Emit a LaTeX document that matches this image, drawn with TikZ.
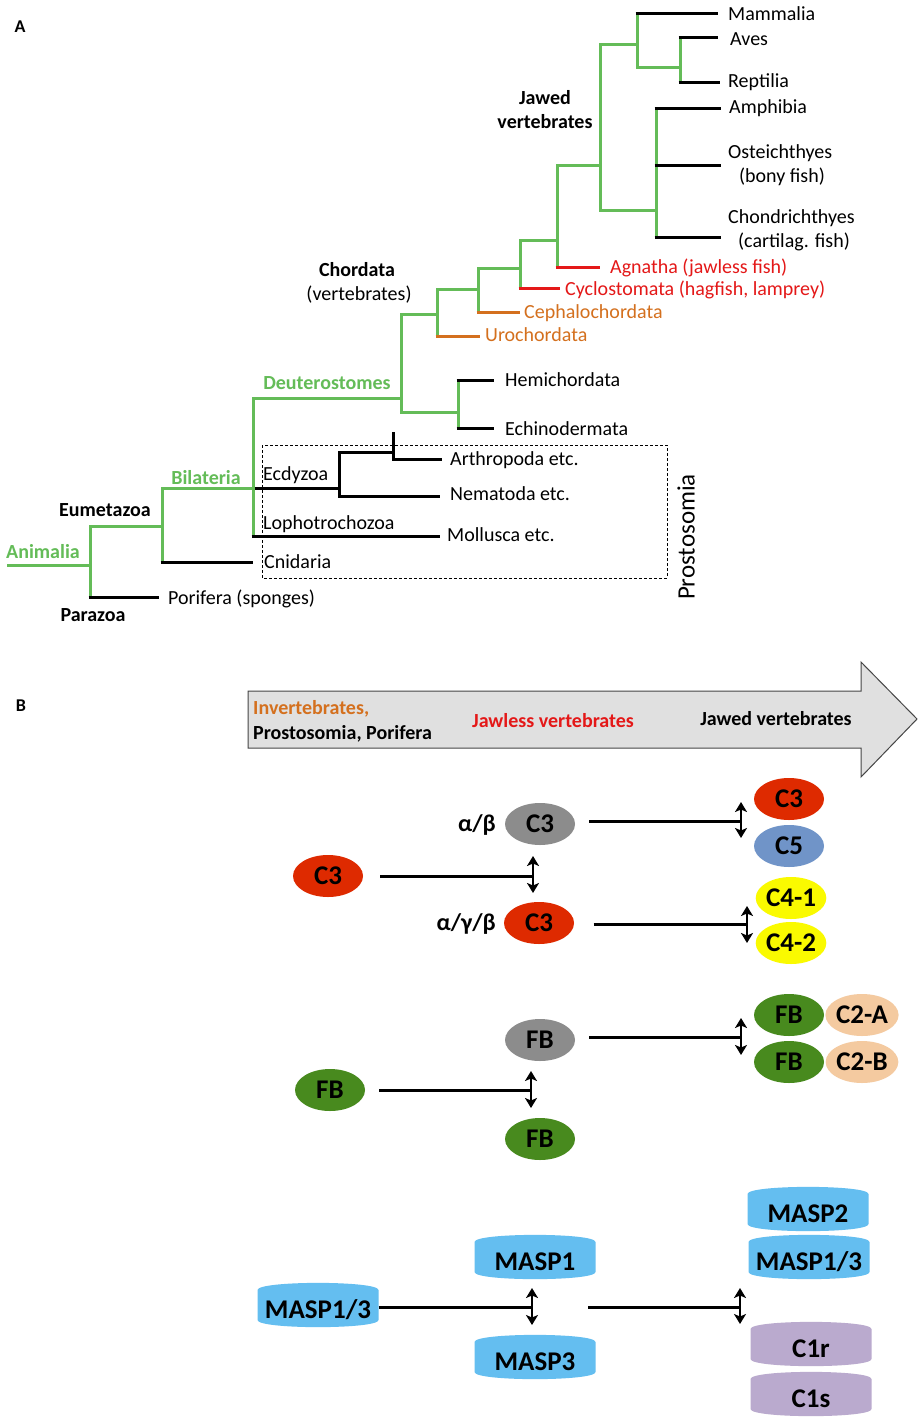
\documentclass[tikz,border=0pt]{standalone}
\usepackage{fontspec}
\setmainfont{Carlito}
\usetikzlibrary{arrows.meta,shapes.geometric}
\definecolor{tgreen}{RGB}{100,188,88}
\definecolor{tred}{RGB}{228,24,24}
\definecolor{torange}{RGB}{212,112,30}
\definecolor{cred}{RGB}{222,42,0}
\definecolor{cgray}{RGB}{140,140,140}
\definecolor{cblue}{RGB}{112,148,200}
\definecolor{cyellow}{RGB}{250,250,0}
\definecolor{cgreen}{RGB}{72,138,30}
\definecolor{cpeach}{RGB}{244,202,160}
\definecolor{ccyan}{RGB}{100,190,240}
\definecolor{cpurple}{RGB}{186,170,206}
\definecolor{arrowfill}{RGB}{224,224,224}
\definecolor{arrowedge}{RGB}{70,70,70}
\newcommand\maspcan[5]{%
  \fill[#4] (#2-60.5,#3-15) .. controls (#2-60.5,#3-24.5) and (#2+60.5,#3-24.5) .. (#2+60.5,#3-15)
    -- (#2+60.5,#3+15) .. controls (#2+60.5,#3+24.5) and (#2-60.5,#3+24.5) .. (#2-60.5,#3+15) -- cycle;
  \coordinate (#1-e) at (#2+60.5,#3);
  \node[cantxt] (#1) at (#2,#3+5) {#5};}
\begin{document}
\begin{tikzpicture}[x=1pt,y=-1pt,line join=miter,
  tl/.style={font=\fontsize{20}{24}\selectfont, inner sep=0pt, anchor=west, text height=13pt, text depth=0pt},
  tlc/.style={font=\fontsize{20}{24}\selectfont, inner sep=0pt, text height=13pt, text depth=0pt},
  tlb/.style={font=\fontsize{20}{24}\selectfont\bfseries, inner sep=0pt, text height=13pt, text depth=0pt},
  tlbw/.style={tlb, anchor=west},
  gl/.style={draw=tgreen, line width=3pt},
  bl/.style={draw=black, line width=3pt},
  rl/.style={draw=tred, line width=3pt},
  ol/.style={draw=torange, line width=3pt},
  ell/.style={ellipse, inner sep=0pt, minimum width=70pt, minimum height=42pt, font=\fontsize{27}{30}\selectfont\bfseries, text height=17pt, text depth=0pt},
  cantxt/.style={inner sep=0pt, font=\fontsize{27}{30}\selectfont\bfseries, text height=17pt, text depth=0pt},
  greek/.style={font=\fontsize{24}{28}\selectfont\bfseries, inner sep=0pt, text height=14pt, text depth=0pt, anchor=east},
  hl/.style={line width=3pt},
  bar/.style={line width=2.2pt, {Stealth[length=10pt,width=12pt,inset=2.5pt]}-{Stealth[length=10pt,width=12pt,inset=2.5pt]}},
  panel/.style={font=\fontsize{18}{20}\selectfont\bfseries, inner sep=0pt}]
\fill[white] (0,0) rectangle (920,1421);
\useasboundingbox (0,0) rectangle (920,1421);

% ---------- Panel A ----------
\node[panel] (lA) at (20,27) {A};

% green tree
\draw[gl] (7,565) -- (90,565);
\draw[gl] (162,526) -- (90,526) -- (90,597);
\draw[gl] (253,488) -- (162,488) -- (162,562);
\draw[gl] (401,398) -- (253,398) -- (253,536);
\draw[gl] (437,314) -- (401,314) -- (401,412) -- (458,412);
\draw[gl] (458,380) -- (458,428);
\draw[gl] (478,289) -- (437,289) -- (437,336);
\draw[gl] (520,268) -- (478,268) -- (478,312);
\draw[gl] (557,240) -- (520,240) -- (520,288);
\draw[gl] (600,165) -- (557,165) -- (557,267);
\draw[gl] (637,45) -- (600,45) -- (600,210) -- (656,210);
\draw[gl] (637,14) -- (637,68) -- (680,68);
\draw[gl] (680,38) -- (680,82);
\draw[gl] (656,108) -- (656,237);

% leaves
\draw[bl] (88.5,597) -- (159,597);
\draw[bl] (160.5,562) -- (253,562);
\draw[bl] (251.5,536) -- (440,536);
\draw[bl] (254.5,488) -- (339,488);
\draw[bl] (393,452) -- (339,452) -- (339,496) -- (440,496);
\draw[bl] (393,432) -- (393,459) -- (442,459);
\draw[bl] (456.5,380) -- (494,380);
\draw[bl] (456.5,428) -- (494,428);
\draw[ol] (435.5,336) -- (480,336);
\draw[ol] (476.5,312) -- (520,312);
\draw[rl] (518.5,288) -- (560,288);
\draw[rl] (555.5,267) -- (600,267);
\draw[bl] (635.5,14) -- (718,14);
\draw[bl] (678.5,38) -- (718,38);
\draw[bl] (678.5,82) -- (720,82);
\draw[bl] (654.5,108) -- (721,108);
\draw[bl] (654.5,165) -- (721,165);
\draw[bl] (654.5,237) -- (721,237);

% labels
\node[tl] (mam) at (728,14) {Mammalia};
\node[tl] (ave) at (730,39) {Aves};
\node[tl] (rep) at (728,81) {Reptilia};
\node[tl] (amp) at (729,107) {Amphibia};
\node[tl] (ost) at (728,152) {Osteichthyes};
\node[tlc] (ost2) at (782,176) {(bony fish)};
\node[tl] (cho) at (728,217) {Chondrichthyes};
\node[tlc] (cho2) at (794,241) {(cartilag. fish)};
\node[tlb] (jv1) at (545,98) {Jawed};
\node[tlb] (jv2) at (545,122) {vertebrates};
\node[tl, text=tred] (agn) at (610,267) {Agnatha (jawless fish)};
\node[tl, text=tred] (cyc) at (565,289) {Cyclostomata (hagfish, lamprey)};
\node[tl, text=torange] (cep) at (524,312) {Cephalochordata};
\node[tl, text=torange] (uro) at (485,335) {Urochordata};
\node[tlb] (chd1) at (357,270) {Chordata};
\node[tlc] (chd2) at (359,294) {(vertebrates)};
\node[tlb, text=tgreen] (deu) at (327,383) {Deuterostomes};
\node[tl] (hem) at (505,380) {Hemichordata};
\node[tl] (ech) at (505,429) {Echinodermata};
\node[tl] (art) at (450,459) {Arthropoda etc.};
\node[tl] (nem) at (450,494) {Nematoda etc.};
\node[tl] (mol) at (447,535) {Mollusca etc.};
\node[tl] (ecd) at (263,474) {Ecdyzoa};
\node[tl] (lop) at (263,523) {Lophotrochozoa};
\node[tl] (cni) at (264,562) {Cnidaria};
\node[tlb, text=tgreen] (bil) at (206,478) {Bilateria};
\node[tlb] (eum) at (105,510) {Eumetazoa};
\node[tlb, text=tgreen] (ani) at (43,552) {Animalia};
\node[tlb] (par) at (93,615) {Parazoa};
\node[tl] (por) at (168,598) {Porifera (sponges)};
\draw[line width=0.8pt, dash pattern=on 3pt off 2pt] (262,445) rectangle (667,578);
\node[font=\fontsize{25}{30}\selectfont, rotate=90, inner sep=0pt] (pro) at (686,537) {Prostosomia};

% ---------- Panel B ----------
\node[panel] (lB) at (21,706) {B};
\filldraw[fill=arrowfill, draw=arrowedge, line width=1pt] (248,691) -- (861,691) -- (861,662) -- (917,719) -- (861,777) -- (861,748) -- (248,748) -- cycle;
\node[tlbw, text=torange] (inv) at (253,708) {Invertebrates,};
\node[tlbw] (prp) at (253,733) {Prostosomia, Porifera};
\node[tlb, text=tred] (jlv) at (553,721) {Jawless vertebrates};
\node[tlb] (jwv) at (776,719) {Jawed vertebrates};

% C3 rows
\node[ell, fill=cred] (c3l) at (328,876) {C3};
\node[ell, fill=cgray] (c3g) at (540,824) {C3};
\node[ell, fill=cred] (c3r) at (539,923) {C3};
\node[ell, fill=cred] (c3j) at (789,799) {C3};
\node[ell, fill=cblue] (c5) at (789,846) {C5};
\node[ell, fill=cyellow] (c41) at (791,898) {C4-1};
\node[ell, fill=cyellow] (c42) at (791,943) {C4-2};
\node[greek] (ab) at (496,824) {α/β};
\node[greek] (agb) at (496,923) {α/γ/β};

\coordinate (j1) at (533,876); \coordinate (j1t) at (533,856); \coordinate (j1b) at (533,893);
\draw[hl] ([xshift=17pt]c3l.east) -- (j1);
\draw[bar] (j1t) -- (j1b);
\coordinate (j2) at (741,821); \coordinate (j2t) at (741,802); \coordinate (j2b) at (741,838);
\draw[hl] ([shift={(14,-3)}]c3g.east) -- (j2);
\draw[bar] (j2t) -- (j2b);
\coordinate (j3) at (747,924); \coordinate (j3t) at (747,906); \coordinate (j3b) at (747,943);
\draw[hl] ([shift={(19.5,1)}]c3r.east) -- (j3);
\draw[bar] (j3t) -- (j3b);

% FB rows
\node[ell, fill=cgreen] (fbl) at (330,1090) {FB};
\node[ell, fill=cgray] (fbg) at (540,1040) {FB};
\node[ell, fill=cgreen] (fbd) at (540,1139) {FB};
\node[ell, fill=cpeach] (c2a) at (862,1015) {C2-A};
\node[ell, fill=cpeach] (c2b) at (862,1062) {C2-B};
\node[ell, fill=cgreen] (fba) at (789,1015) {FB};
\node[ell, fill=cgreen] (fbb) at (789,1062) {FB};

\coordinate (j4) at (531,1090); \coordinate (j4t) at (531,1071); \coordinate (j4b) at (531,1108);
\draw[hl] ([xshift=14pt]fbl.east) -- (j4);
\draw[bar] (j4t) -- (j4b);
\coordinate (j5) at (741,1037); \coordinate (j5t) at (741,1018); \coordinate (j5b) at (741,1055);
\draw[hl] ([shift={(14,-3)}]fbg.east) -- (j5);
\draw[bar] (j5t) -- (j5b);

% MASP rows
\maspcan{m13l}{318}{1305}{ccyan}{MASP1/3}
\maspcan{m1}{535}{1257}{ccyan}{MASP1}
\maspcan{m3}{535}{1357}{ccyan}{MASP3}
\maspcan{m2}{808}{1209}{ccyan}{MASP2}
\maspcan{m13r}{809}{1257}{ccyan}{MASP1/3}
\maspcan{c1r}{811}{1344}{cpurple}{C1r}
\maspcan{c1s}{811}{1394}{cpurple}{C1s}

\coordinate (j6) at (532,1307); \coordinate (j6t) at (532,1288); \coordinate (j6b) at (532,1325);
\draw[hl] ([yshift=-2pt]m13l-e) -- (j6);
\draw[bar] (j6t) -- (j6b);
\coordinate (j7s) at (588,1307); \coordinate (j7) at (740,1307);
\coordinate (j7t) at (740,1288); \coordinate (j7b) at (740,1324);
\draw[hl] (j7s) -- (j7);
\draw[bar] (j7t) -- (j7b);
\end{tikzpicture}
\end{document}
